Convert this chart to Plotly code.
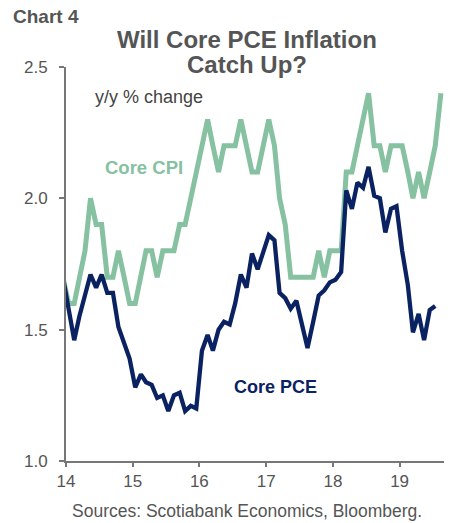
import pandas as pd
import plotly.graph_objects as go

# Monthly y/y % change, Dec 2013 onward (first point sits just left of the axis and is clipped)
core_cpi = [
    1.7,
    1.6, 1.6, 1.7, 1.8, 2.0, 1.9, 1.9, 1.7, 1.7, 1.8, 1.7, 1.6,
    1.6, 1.7, 1.8, 1.8, 1.7, 1.8, 1.8, 1.8, 1.9, 1.9, 2.0, 2.1,
    2.2, 2.3, 2.2, 2.1, 2.2, 2.2, 2.2, 2.3, 2.2, 2.1, 2.1, 2.2,
    2.3, 2.2, 2.0, 1.9, 1.7, 1.7, 1.7, 1.7, 1.7, 1.8, 1.7, 1.8,
    1.8, 1.8, 2.1, 2.1, 2.2, 2.3, 2.4, 2.2, 2.2, 2.1, 2.2, 2.2,
    2.2, 2.1, 2.0, 2.1, 2.0, 2.1, 2.2, 2.4,
]
core_pce = [
    1.70,
    1.58, 1.46, 1.55, 1.63, 1.71, 1.66, 1.71, 1.64, 1.64, 1.51, 1.45, 1.39,
    1.28, 1.33, 1.30, 1.29, 1.24, 1.25, 1.19, 1.25, 1.26, 1.19, 1.21, 1.20,
    1.42, 1.48, 1.42, 1.50, 1.53, 1.52, 1.60, 1.71, 1.66, 1.79, 1.73, 1.80,
    1.86, 1.84, 1.64, 1.62, 1.58, 1.61, 1.52, 1.43, 1.53, 1.63, 1.65, 1.68,
    1.69, 1.72, 2.03, 1.96, 2.06, 2.04, 2.12, 2.01, 2.00, 1.87, 1.96, 1.97,
    1.80, 1.67, 1.49, 1.56, 1.46, 1.575, 1.59,
]
y_ticks = [1.0, 1.5, 2.0, 2.5]
x_tick_start = "2014-01-01"

cpi_dates = pd.date_range("2013-12-01", periods=len(core_cpi), freq="MS") + pd.Timedelta(days=14)
pce_dates = pd.date_range("2013-12-01", periods=len(core_pce), freq="MS") + pd.Timedelta(days=14)

GREEN = "#86c1a1"
NAVY = "#0b2262"
GREY = "#555555"
FONT = "Liberation Sans, Arial, sans-serif"

fig = go.Figure()
fig.add_trace(go.Scatter(x=cpi_dates, y=core_cpi, mode="lines",
                         line=dict(color=GREEN, width=5), name="Core CPI"))
fig.add_trace(go.Scatter(x=pce_dates, y=core_pce, mode="lines",
                         line=dict(color=NAVY, width=4.3), name="Core PCE"))

fig.update_layout(
    width=454, height=523,
    margin=dict(l=66, r=10, t=67, b=62, autoexpand=False),
    paper_bgcolor="white", plot_bgcolor="white",
    showlegend=False,
    font=dict(family=FONT, color=GREY, size=17),
)
fig.update_xaxes(
    type="date", range=["2014-01-01", "2019-09-01"],
    tick0=x_tick_start, dtick="M12", tickformat="%y",
    ticks="outside", ticklen=4, tickwidth=1.5, tickcolor="#777777",
    showline=True, linecolor="#777777", linewidth=1.8,
    showgrid=False, zeroline=False, automargin=False,
    tickfont=dict(size=17, color=GREY),
)
fig.update_yaxes(
    range=[1.0, 2.5], tickvals=y_ticks, tickformat=".1f",
    ticks="outside", ticklen=5, tickwidth=1.5, tickcolor="#777777",
    showline=True, linecolor="#777777", linewidth=1.8,
    showgrid=False, zeroline=False, automargin=False,
    tickfont=dict(size=17, color=GREY),
    ticklabelstandoff=8,
)

def px(x):
    return (x - 66) / 378

def py(y):
    return (461 - y) / 394

ann = [
    dict(text="<b>Chart 4</b>", x=px(11), y=py(17), xanchor="left", yanchor="middle",
         font=dict(size=19, color=GREY)),
    dict(text="<b>Will Core PCE Inflation</b>", x=px(247), y=py(39), xanchor="center", yanchor="middle",
         font=dict(size=24, color=GREY)),
    dict(text="<b>Catch Up?</b>", x=px(247), y=py(64), xanchor="center", yanchor="middle",
         font=dict(size=24, color=GREY)),
    dict(text="y/y % change", x=px(93), y=py(97), xanchor="left", yanchor="middle",
         font=dict(size=18, color="#444444")),
    dict(text="<b>Core CPI</b>", x=px(144), y=py(167), xanchor="center", yanchor="middle",
         font=dict(size=18.5, color=GREEN)),
    dict(text="<b>Core PCE</b>", x=px(275), y=py(387), xanchor="center", yanchor="middle",
         font=dict(size=18, color=NAVY)),
    dict(text="Sources: Scotiabank Economics, Bloomberg.", x=px(247), y=py(511),
         xanchor="center", yanchor="middle", font=dict(size=17.5, color=GREY)),
]
for a in ann:
    fig.add_annotation(xref="paper", yref="paper", showarrow=False, **a)

fig.write_html("out.html", config={"displayModeBar": False},
               post_script="document.body.style.margin='0';document.body.style.overflow='hidden';")
